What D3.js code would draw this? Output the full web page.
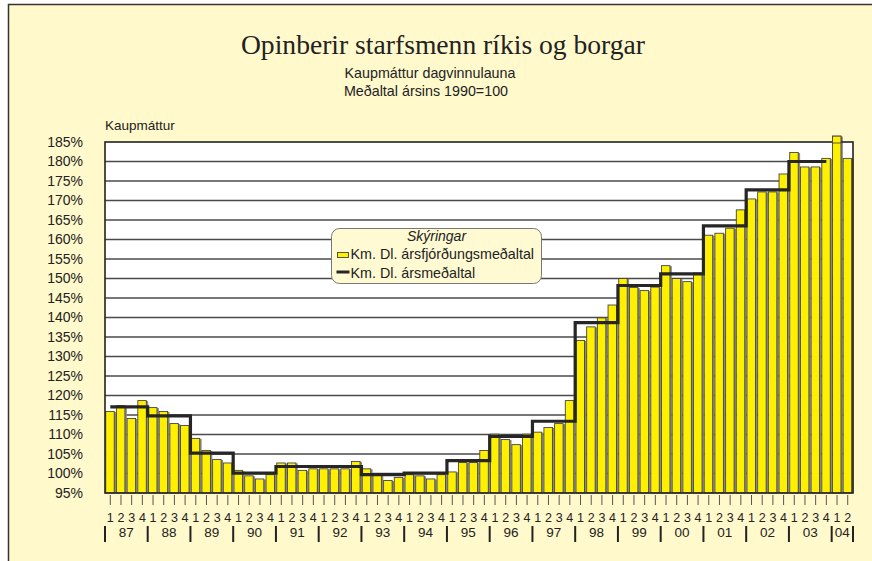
<!DOCTYPE html>
<html>
<head>
<meta charset="utf-8">
<script src="https://cdn.jsdelivr.net/npm/d3@7/dist/d3.min.js"></script>
<style>
  body { margin: 0; background: #fff; }
  svg { display: block; }
</style>
</head>
<body>
<div id="chart"></div>
<script>
// Ár (1987-2004) og ársfjórðungar
var years = ['87', '88', '89', '90', '91', '92', '93', '94', '95',
             '96', '97', '98', '99', '00', '01', '02', '03', '04'];
var quarterLabels = ['1', '2', '3', '4'];

// Kaupmáttur, ársfjórðungsmeðaltal (1990=100)
var quarterlyIndex = [
  [115.9, 117.4, 114.1, 118.7],  // 87
  [116.9, 115.9, 112.8, 112.3],  // 88
  [109.0, 105.9, 103.6, 102.7],  // 89
  [100.8,  99.4,  98.6,  99.7],  // 90
  [102.7, 102.7, 100.8, 101.2],  // 91
  [101.2, 101.2, 101.2, 103.1],  // 92
  [101.2,  99.9,  98.2,  99.0],  // 93
  [ 99.7,  99.4,  98.6,  99.7],  // 94
  [100.4, 102.8, 102.8, 105.9],  // 95
  [110.1, 108.7, 107.4, 110.1],  // 96
  [110.6, 111.8, 112.8, 118.7],  // 97
  [134.1, 137.6, 139.9, 143.2],  // 98
  [150.0, 147.7, 146.9, 147.8],  // 99
  [153.3, 150.0, 149.2, 151.4],  // 00
  [161.1, 161.6, 162.9, 167.6],  // 01
  [170.4, 172.2, 172.2, 176.8],  // 02
  [182.3, 178.6, 178.6, 180.8],  // 03
  [186.5, 180.8]                 // 04
];

// Kaupmáttur, ársmeðaltal (87-03)
var annualAverage = [117.1, 114.8, 105.2, 100.1, 101.8, 101.8, 99.7, 100.1, 103.3,
                     109.5, 113.4, 138.7, 148.2, 151.2, 163.5, 172.7, 180.0];

var yTicks = [95, 100, 105, 110, 115, 120, 125, 130, 135, 140,
              145, 150, 155, 160, 165, 170, 175, 180, 185];

var attrs = {
  svgWidth: 872,
  svgHeight: 561,
  marginTop: 142,
  marginBottom: 68,
  marginLeft: 105,
  marginRight: 19,
  background: '#fff9cc',
  barColor: '#fff000',
  textFill: '#222',
  font: '"Liberation Sans", Arial, Helvetica, sans-serif'
};

var calc = {};
calc.chartWidth = attrs.svgWidth - attrs.marginLeft - attrs.marginRight;
calc.chartHeight = attrs.svgHeight - attrs.marginTop - attrs.marginBottom;

// flat list of quarters
var data = [];
quarterlyIndex.forEach(function (vals, yi) {
  vals.forEach(function (v, qi) {
    data.push({ year: years[yi], yi: yi, q: quarterLabels[qi], key: years[yi] + '-' + quarterLabels[qi], value: v });
  });
});

var x = d3.scaleBand()
  .domain(data.map(d => d.key))
  .range([0, calc.chartWidth])
  .paddingInner(0.15)
  .paddingOuter(0.07);

var y = d3.scaleLinear()
  .domain([95, 185])
  .range([calc.chartHeight, 0]);

var svg = d3.select('#chart').append('svg')
  .attr('width', attrs.svgWidth)
  .attr('height', attrs.svgHeight)
  .attr('font-family', attrs.font);

// background frame
svg.append('rect')
  .attr('x', 8.5).attr('y', 4.5)
  .attr('width', 900).attr('height', 600)
  .attr('fill', attrs.background)
  .attr('stroke', '#333')
  .attr('stroke-width', 1.5);

// titles
svg.append('text')
  .attr('x', 443).attr('y', 54)
  .attr('text-anchor', 'middle')
  .attr('font-family', '"Liberation Serif", "Times New Roman", serif')
  .attr('font-size', 27.6)
  .attr('fill', attrs.textFill)
  .text('Opinberir starfsmenn ríkis og borgar');

svg.append('text')
  .attr('x', 430).attr('y', 78)
  .attr('text-anchor', 'middle')
  .attr('font-size', 14.3)
  .attr('fill', attrs.textFill)
  .text('Kaupmáttur dagvinnulauna');

svg.append('text')
  .attr('x', 426).attr('y', 96)
  .attr('text-anchor', 'middle')
  .attr('font-size', 14.3)
  .attr('fill', attrs.textFill)
  .text('Meðaltal ársins 1990=100');

svg.append('text')
  .attr('x', 105).attr('y', 130)
  .attr('font-size', 13.5)
  .attr('fill', attrs.textFill)
  .text('Kaupmáttur');

var chart = svg.append('g')
  .attr('transform', 'translate(' + attrs.marginLeft + ',' + attrs.marginTop + ')');

// plot area
chart.append('rect')
  .attr('width', calc.chartWidth)
  .attr('height', calc.chartHeight)
  .attr('fill', '#fff');

// gridlines
chart.selectAll('.grid').data(yTicks.slice(1, -1)).enter().append('line')
  .attr('class', 'grid')
  .attr('x1', 0).attr('x2', calc.chartWidth)
  .attr('y1', d => y(d)).attr('y2', d => y(d))
  .attr('stroke', '#4a4a4a')
  .attr('stroke-width', 1.3);

// y axis labels
var yAxis = d3.axisLeft(y).tickValues(yTicks).tickSize(0).tickPadding(22).tickFormat(d => d + '%');
chart.append('g').call(yAxis)
  .call(g => g.select('.domain').remove())
  .selectAll('text')
  .attr('font-size', 14)
  .attr('font-family', attrs.font)
  .attr('fill', attrs.textFill);

// bars (with small grey shadow)
var bw = x.bandwidth();
chart.selectAll('.shadow').data(data).enter().append('rect')
  .attr('class', 'shadow')
  .attr('x', d => x(d.key) + 1.3)
  .attr('y', d => y(d.value) + 0.5)
  .attr('width', bw)
  .attr('height', d => calc.chartHeight - y(d.value) - 0.5)
  .attr('fill', '#8a8a8a');

chart.selectAll('.bar').data(data).enter().append('rect')
  .attr('class', 'bar')
  .attr('x', d => x(d.key))
  .attr('y', d => y(d.value))
  .attr('width', bw - 0.6)
  .attr('height', d => calc.chartHeight - y(d.value))
  .attr('fill', attrs.barColor)
  .attr('stroke', '#444')
  .attr('stroke-width', 0.9);

// annual average step line
var half = x.step() * x.paddingInner() / 2;
var stepPts = [];
annualAverage.forEach(function (a, yi) {
  var qs = data.filter(d => d.yi === yi);
  var first = qs[0], last = qs[qs.length - 1];
  var x0 = yi === 0 ? x(first.key) + bw / 2 : x(first.key) - half;
  var x1 = yi === annualAverage.length - 1 ? x(last.key) + bw / 2 : x(last.key) + bw + half;
  stepPts.push([x0, y(a)], [x1, y(a)]);
});
chart.append('path')
  .attr('d', d3.line()(stepPts))
  .attr('fill', 'none')
  .attr('stroke', '#262626')
  .attr('stroke-width', 3.2)
  .attr('stroke-linejoin', 'miter');

// plot frame
chart.append('rect')
  .attr('width', calc.chartWidth)
  .attr('height', calc.chartHeight)
  .attr('fill', 'none')
  .attr('stroke', '#222')
  .attr('stroke-width', 1.6);

// last bar sticks out over the top frame
var overflow = data.filter(d => d.value > 185);
chart.selectAll('.over').data(overflow).enter().append('rect')
  .attr('class', 'over')
  .attr('x', d => x(d.key))
  .attr('y', d => y(d.value))
  .attr('width', bw - 0.6)
  .attr('height', d => y(185) - y(d.value) + 1)
  .attr('fill', attrs.barColor)
  .attr('stroke', '#444')
  .attr('stroke-width', 0.9);

// quarter ticks and labels
var xg = chart.append('g').attr('transform', 'translate(0,' + calc.chartHeight + ')');
xg.selectAll('.qtick').data(data).enter().append('line')
  .attr('class', 'qtick')
  .attr('x1', d => x(d.key) + bw / 2).attr('x2', d => x(d.key) + bw / 2)
  .attr('y1', 2).attr('y2', 12)
  .attr('stroke', '#555')
  .attr('stroke-width', 1);

xg.selectAll('.qlab').data(data).enter().append('text')
  .attr('class', 'qlab')
  .attr('x', d => x(d.key) + bw / 2)
  .attr('y', 29)
  .attr('text-anchor', 'middle')
  .attr('font-size', 12.5)
  .attr('fill', attrs.textFill)
  .text(d => d.q);

// year separators and labels
var yearInfo = years.map(function (yr, yi) {
  var qs = data.filter(d => d.yi === yi);
  return {
    year: yr,
    left: x(qs[0].key) - half,
    right: x(qs[qs.length - 1].key) + bw + half
  };
});
yearInfo[0].left = 0;
yearInfo[yearInfo.length - 1].right = calc.chartWidth;

var seps = yearInfo.map(d => d.left).concat([yearInfo[yearInfo.length - 1].right]);
xg.selectAll('.ysep').data(seps).enter().append('line')
  .attr('class', 'ysep')
  .attr('x1', d => d).attr('x2', d => d)
  .attr('y1', 33).attr('y2', 49)
  .attr('stroke', '#222')
  .attr('stroke-width', 2);

xg.selectAll('.ylab').data(yearInfo).enter().append('text')
  .attr('class', 'ylab')
  .attr('x', d => (d.left + d.right) / 2)
  .attr('y', 44)
  .attr('text-anchor', 'middle')
  .attr('font-size', 13.5)
  .attr('fill', attrs.textFill)
  .text(d => d.year);

// legend
var legend = svg.append('g').attr('transform', 'translate(331.5,228.5)');
legend.append('rect')
  .attr('width', 210).attr('height', 55)
  .attr('rx', 8).attr('ry', 8)
  .attr('fill', '#fffad2')
  .attr('stroke', '#777')
  .attr('stroke-width', 1);
legend.append('text')
  .attr('x', 105).attr('y', 12)
  .attr('text-anchor', 'middle')
  .attr('font-size', 14)
  .attr('font-style', 'italic')
  .attr('fill', attrs.textFill)
  .text('Skýringar');
legend.append('rect')
  .attr('x', 6).attr('y', 24)
  .attr('width', 11).attr('height', 5)
  .attr('fill', attrs.barColor)
  .attr('stroke', '#444')
  .attr('stroke-width', 0.9);
legend.append('text')
  .attr('x', 19).attr('y', 30)
  .attr('font-size', 14.3)
  .attr('fill', attrs.textFill)
  .text('Km. Dl. ársfjórðungsmeðaltal');
legend.append('line')
  .attr('x1', 5).attr('x2', 18)
  .attr('y1', 43.5).attr('y2', 43.5)
  .attr('stroke', '#262626')
  .attr('stroke-width', 3);
legend.append('text')
  .attr('x', 19).attr('y', 49)
  .attr('font-size', 14.3)
  .attr('fill', attrs.textFill)
  .text('Km. Dl. ársmeðaltal');
</script>
</body>
</html>
